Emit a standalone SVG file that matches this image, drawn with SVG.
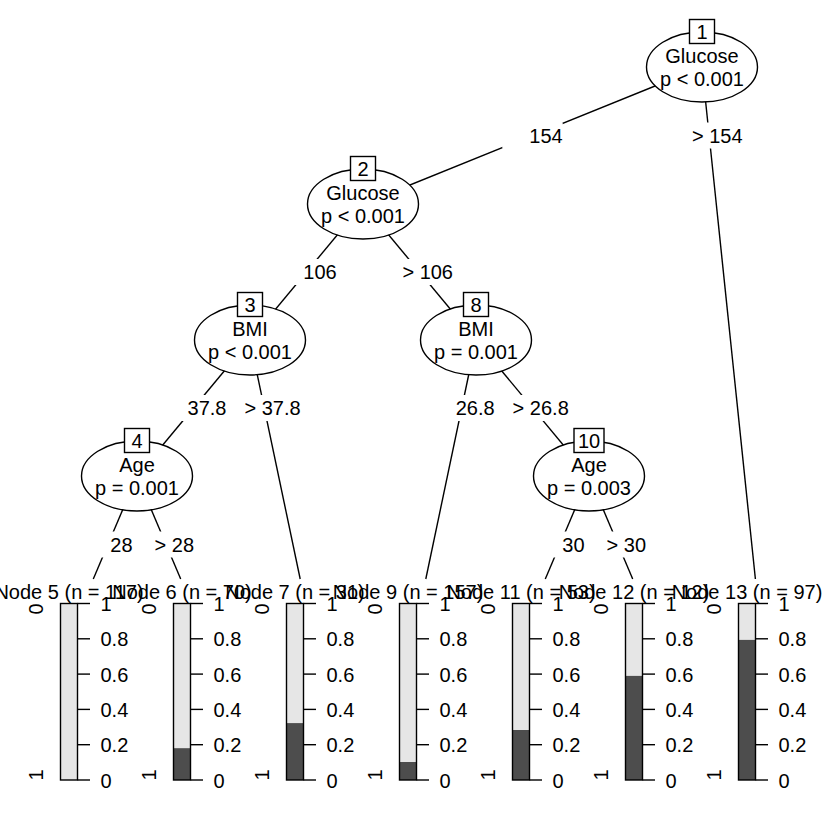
<svg xmlns="http://www.w3.org/2000/svg" width="840" height="840" viewBox="0 0 840 840">
<style>
text{font-family:"Liberation Sans",Arial,Helvetica,sans-serif;font-size:20px;fill:#000}
.m{text-anchor:middle}
.edge{stroke:#000;stroke-width:1.4;fill:none}
.lbg{fill:#fff;stroke:none}
.ell{fill:#fff;stroke:#000;stroke-width:1.4}
.box{fill:#fff;stroke:#000;stroke-width:1.4}
.lt{fill:#e6e6e6;stroke:none}
.dk{fill:#4d4d4d;stroke:none}
.out{fill:none;stroke:#000;stroke-width:1.4}
.tk{stroke:#000;stroke-width:1.4}
</style>
<defs>
<g id="axis">
<line class="tk" x1="17" y1="603.5" x2="29.5" y2="603.5"/>
<line class="tk" x1="17" y1="638.8" x2="29.5" y2="638.8"/>
<line class="tk" x1="17" y1="674.1" x2="29.5" y2="674.1"/>
<line class="tk" x1="17" y1="709.4" x2="29.5" y2="709.4"/>
<line class="tk" x1="17" y1="744.7" x2="29.5" y2="744.7"/>
<line class="tk" x1="17" y1="780" x2="29.5" y2="780"/>
<text x="40" y="611">1</text>
<text x="40" y="646.3">0.8</text>
<text x="40" y="681.6">0.6</text>
<text x="40" y="716.9">0.4</text>
<text x="40" y="752.2">0.2</text>
<text x="40" y="787.5">0</text>
<text class="m" transform="translate(-17.5,609) rotate(-90)">0</text>
<text class="m" transform="translate(-17.5,775) rotate(-90)">1</text>
</g>
</defs>
<rect width="840" height="840" fill="#fff"/>
<g id="connectors">
<line class="edge" x1="702" y1="67" x2="363" y2="204"/>
<line class="edge" x1="702" y1="67" x2="755.4" y2="579"/>
<line class="edge" x1="363" y1="204" x2="250" y2="340"/>
<line class="edge" x1="363" y1="204" x2="476" y2="340"/>
<line class="edge" x1="250" y1="340" x2="137" y2="476"/>
<line class="edge" x1="250" y1="340" x2="300.2" y2="579"/>
<line class="edge" x1="137" y1="476" x2="93.3" y2="579"/>
<line class="edge" x1="137" y1="476" x2="180.7" y2="579"/>
<line class="edge" x1="476" y1="340" x2="425.8" y2="579"/>
<line class="edge" x1="476" y1="340" x2="589" y2="476"/>
<line class="edge" x1="589" y1="476" x2="545.3" y2="579"/>
<line class="edge" x1="589" y1="476" x2="632.7" y2="579"/>
<rect class="lbg" x="502.3" y="122.5" width="60.4" height="26"/>
<text class="m" x="546" y="142.8">154</text>
<rect class="lbg" x="690" y="122.5" width="55" height="26"/>
<text class="m" x="717.3" y="142.8">&gt; 154</text>
<rect class="lbg" x="276.3" y="259" width="60.4" height="26"/>
<text class="m" x="320" y="279.3">106</text>
<rect class="lbg" x="400.2" y="259" width="55" height="26"/>
<text class="m" x="427.7" y="279.3">&gt; 106</text>
<rect class="lbg" x="160.5" y="395" width="66" height="26"/>
<text class="m" x="207" y="415.3">37.8</text>
<rect class="lbg" x="242" y="395" width="61" height="26"/>
<text class="m" x="272.5" y="415.3">&gt; 37.8</text>
<rect class="lbg" x="428.7" y="395" width="66" height="26"/>
<text class="m" x="475.2" y="415.3">26.8</text>
<rect class="lbg" x="510.2" y="395" width="61" height="26"/>
<text class="m" x="540.7" y="415.3">&gt; 26.8</text>
<rect class="lbg" x="83.3" y="531.5" width="49.2" height="26"/>
<text class="m" x="121.4" y="551.8">28</text>
<rect class="lbg" x="152.5" y="531.5" width="43.5" height="26"/>
<text class="m" x="174.3" y="551.8">&gt; 28</text>
<rect class="lbg" x="535.3" y="531.5" width="49.2" height="26"/>
<text class="m" x="573.4" y="551.8">30</text>
<rect class="lbg" x="604.5" y="531.5" width="43.5" height="26"/>
<text class="m" x="626.3" y="551.8">&gt; 30</text>
</g>
<g id="node1">
<ellipse class="ell" cx="702" cy="67" rx="55.5" ry="35"/>
<text class="m" x="702" y="63">Glucose</text>
<text class="m" x="702" y="86">p &lt; 0.001</text>
<rect class="box" x="689.5" y="19.5" width="25" height="24"/>
<text class="m" x="702" y="38.5">1</text>
</g>
<g id="node2">
<ellipse class="ell" cx="363" cy="204" rx="55.5" ry="35"/>
<text class="m" x="363" y="200">Glucose</text>
<text class="m" x="363" y="223">p &lt; 0.001</text>
<rect class="box" x="350.5" y="156.5" width="25" height="24"/>
<text class="m" x="363" y="175.5">2</text>
</g>
<g id="node3">
<ellipse class="ell" cx="250" cy="340" rx="55.5" ry="35"/>
<text class="m" x="250" y="336">BMI</text>
<text class="m" x="250" y="359">p &lt; 0.001</text>
<rect class="box" x="237.5" y="292.5" width="25" height="24"/>
<text class="m" x="250" y="311.5">3</text>
</g>
<g id="node4">
<ellipse class="ell" cx="137" cy="476" rx="55.5" ry="35"/>
<text class="m" x="137" y="472">Age</text>
<text class="m" x="137" y="495">p = 0.001</text>
<rect class="box" x="124.5" y="428.5" width="25" height="24"/>
<text class="m" x="137" y="447.5">4</text>
</g>
<g id="node8">
<ellipse class="ell" cx="476" cy="340" rx="55.5" ry="35"/>
<text class="m" x="476" y="336">BMI</text>
<text class="m" x="476" y="359">p = 0.001</text>
<rect class="box" x="463.5" y="292.5" width="25" height="24"/>
<text class="m" x="476" y="311.5">8</text>
</g>
<g id="node10">
<ellipse class="ell" cx="589" cy="476" rx="55.5" ry="35"/>
<text class="m" x="589" y="472">Age</text>
<text class="m" x="589" y="495">p = 0.003</text>
<rect class="box" x="574" y="428.5" width="30" height="24"/>
<text class="m" x="589" y="447.5">10</text>
</g>
<g id="node5">
<text class="m" x="69" y="599">Node 5 (n = 117)</text>
<rect class="lt" x="60.5" y="603.5" width="17" height="176.5"/>
<rect class="out" x="60.5" y="603.5" width="17" height="176.5"/>
<use href="#axis" x="60.5"/>
</g>
<g id="node6">
<text class="m" x="182" y="599">Node 6 (n = 70)</text>
<rect class="lt" x="173.5" y="603.5" width="17" height="176.5"/>
<rect class="dk" x="173.5" y="748.2" width="17" height="31.8"/>
<rect class="out" x="173.5" y="603.5" width="17" height="176.5"/>
<use href="#axis" x="173.5"/>
</g>
<g id="node7">
<text class="m" x="295" y="599">Node 7 (n = 31)</text>
<rect class="lt" x="286.5" y="603.5" width="17" height="176.5"/>
<rect class="dk" x="286.5" y="723.1" width="17" height="56.9"/>
<rect class="out" x="286.5" y="603.5" width="17" height="176.5"/>
<use href="#axis" x="286.5"/>
</g>
<g id="node9">
<text class="m" x="408" y="599">Node 9 (n = 157)</text>
<rect class="lt" x="399.5" y="603.5" width="17" height="176.5"/>
<rect class="dk" x="399.5" y="762" width="17" height="18"/>
<rect class="out" x="399.5" y="603.5" width="17" height="176.5"/>
<use href="#axis" x="399.5"/>
</g>
<g id="node11">
<text class="m" x="521" y="599">Node 11 (n = 53)</text>
<rect class="lt" x="512.5" y="603.5" width="17" height="176.5"/>
<rect class="dk" x="512.5" y="730" width="17" height="50"/>
<rect class="out" x="512.5" y="603.5" width="17" height="176.5"/>
<use href="#axis" x="512.5"/>
</g>
<g id="node12">
<text class="m" x="634" y="599">Node 12 (n = 12)</text>
<rect class="lt" x="625.5" y="603.5" width="17" height="176.5"/>
<rect class="dk" x="625.5" y="675.9" width="17" height="104.1"/>
<rect class="out" x="625.5" y="603.5" width="17" height="176.5"/>
<use href="#axis" x="625.5"/>
</g>
<g id="node13">
<text class="m" x="747" y="599">Node 13 (n = 97)</text>
<rect class="lt" x="738.5" y="603.5" width="17" height="176.5"/>
<rect class="dk" x="738.5" y="639.9" width="17" height="140.1"/>
<rect class="out" x="738.5" y="603.5" width="17" height="176.5"/>
<use href="#axis" x="738.5"/>
</g>
</svg>
